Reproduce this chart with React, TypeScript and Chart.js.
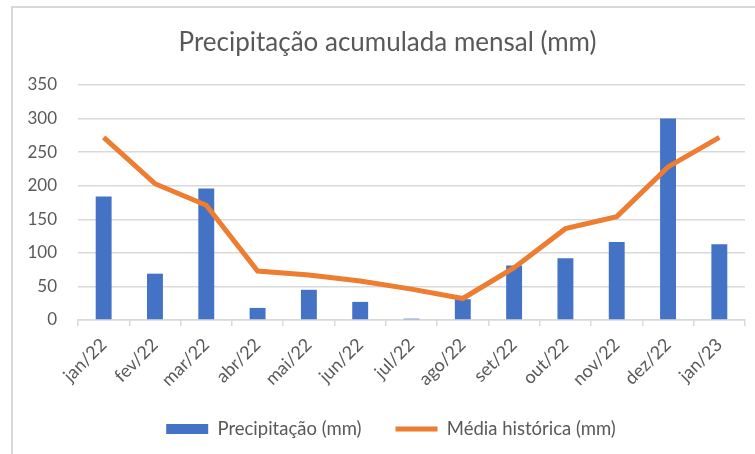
import React, { useEffect, useRef } from "react";
import { Chart, registerables } from "chart.js";

Chart.register(...registerables);

const categories = ["jan/22", "fev/22", "mar/22", "abr/22", "mai/22", "jun/22", "jul/22", "ago/22", "set/22", "out/22", "nov/22", "dez/22", "jan/23"];
const precipitacao = [184, 69, 196, 18, 45, 27, 2, 31, 81, 92, 116, 300, 113];
const mediaHistorica = [272, 203, 171, 73, 67, 58, 46, 32, 78, 136, 154, 228, 272];
const yTicks = [0, 50, 100, 150, 200, 250, 300, 350];

const FONT = "Lato";
const TEXT = "#595959";
const GRID = "#d9d9d9";

const shiftPlugin = {
  id: "shiftBlocks",
  afterLayout(chart: any) {
    const t = chart.titleBlock;
    if (t) {
      t.left += 8.5;
      t.right += 8.5;
    }
    const l = chart.legend;
    if (l) {
      l.left += 12;
      l.right += 12;
    }
  },
};

export default function App() {
  const ref = useRef<HTMLCanvasElement | null>(null);
  useEffect(() => {
    if (!ref.current) return;
    const chart = new Chart(ref.current, {
      data: {
        labels: categories,
        datasets: [
          {
            type: "bar",
            label: "Precipitação (mm)",
            data: precipitacao,
            backgroundColor: "#4472C4",
            borderWidth: 0,
            barPercentage: 0.31,
            categoryPercentage: 1,
            pointStyle: "rect",
            order: 2,
          },
          {
            type: "line",
            label: "Média histórica (mm)",
            data: mediaHistorica,
            borderColor: "#ED7D31",
            backgroundColor: "#ED7D31",
            borderWidth: 5,
            pointRadius: 0,
            pointStyle: "line",
            tension: 0,
            order: 1,
          },
        ],
      } as any,
      plugins: [shiftPlugin],
      options: {
        responsive: false,
        animation: false,
        layout: { padding: { left: 0, right: 10, top: 0, bottom: 5.75 } },
        plugins: {
          title: {
            display: true,
            text: "Precipitação acumulada mensal (mm)",
            color: TEXT,
            font: { family: FONT, size: 26, weight: "normal" },
            padding: { top: 19.4, bottom: 26.4 },
          },
          legend: {
            position: "bottom",
            labels: {
              color: TEXT,
              font: { family: FONT, size: 18.5 },
              usePointStyle: true,
              pointStyleWidth: 42,
              boxHeight: 10,
              padding: 34,
              sort: (a: any, b: any) => a.datasetIndex - b.datasetIndex,
            },
          },
          tooltip: { enabled: false },
        },
        scales: {
          x: {
            grid: {
              display: true,
              offset: true,
              drawOnChartArea: false,
              drawTicks: true,
              tickLength: 6,
              color: GRID,
              lineWidth: 1.5,
            },
            border: { display: true, color: GRID, width: 1.5 },
            ticks: {
              color: TEXT,
              font: { family: FONT, size: 18 },
              maxRotation: 45,
              minRotation: 45,
              autoSkip: false,
              padding: 8,
            },
            afterFit: (s: any) => {
              s.height = 65.75;
            },
          },
          y: {
            min: 0,
            max: 350,
            afterBuildTicks: (s: any) => {
              s.ticks = yTicks.map((v) => ({ value: v }));
            },
            grid: { color: GRID, drawTicks: false, lineWidth: 1.5 },
            border: { display: false },
            ticks: {
              color: TEXT,
              font: { family: FONT, size: 17 },
              padding: 21,
            },
            afterFit: (s: any) => {
              s.width = 65;
            },
          },
        },
      },
    });
    return () => chart.destroy();
  }, []);
  return (
    <div
      style={{
        position: "absolute",
        left: 11,
        top: 6,
        width: 744,
        height: 448,
        borderTop: "2px solid #d9d9d9",
        borderLeft: "2px solid #d9d9d9",
        background: "#fff",
        overflow: "hidden",
      }}
    >
      <canvas ref={ref} width={742} height={446} style={{ display: "block" }} />
    </div>
  );
}
